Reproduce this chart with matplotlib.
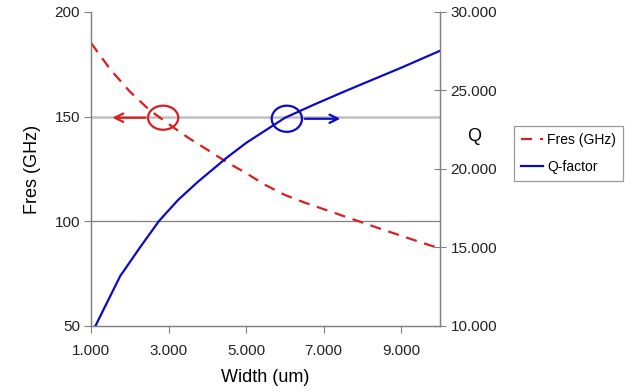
import matplotlib.pyplot as plt
from matplotlib.patches import Ellipse
from matplotlib.ticker import FuncFormatter

plt.rcParams['font.family'] = ['Liberation Sans', 'DejaVu Sans']

fres_width = [1000, 1500, 2000, 2500, 3000, 3500, 4000, 4500, 5000, 5500,
              6000, 6500, 7000, 7500, 8000, 8500, 9000, 9500, 10000]
fres_ghz = [185.2, 172.5, 162, 153.3, 146.5, 140, 134.2, 128.3, 123, 117.3,
            112.6, 109.0, 105.8, 102.6, 99.4, 96.2, 93.1, 90.0, 87]
q_width = [1000, 1750, 2250, 2750, 3250, 3750, 4500, 5000, 6000, 6750,
           7500, 8000, 9000, 10000]
q_factor = [9440, 13170, 14960, 16680, 18040, 19170, 20720, 21660, 23260, 24100,
            24900, 25420, 26450, 27530]

x_ticks = [1000, 3000, 5000, 7000, 9000]
left_ticks = [50, 100, 150, 200]
right_ticks = [10000, 15000, 20000, 25000, 30000]

red = '#d81e1e'
blue = '#0a0ac8'
axis_gray = '#808080'

def dotted_thousands(v, pos):
    return f'{v:,.0f}'.replace(',', '.')

fig = plt.figure(figsize=(6.33, 3.92), dpi=100)
ax = fig.add_axes([0.1438, 0.1684, 0.5513, 0.801])
ax2 = ax.twinx()

l1, = ax.plot(fres_width, fres_ghz, color=red, lw=1.6, dashes=(5, 3.5), label='Fres (GHz)')
l2, = ax2.plot(q_width, q_factor, color=blue, lw=1.6, label='Q-factor')

ax.set_xlim(1000, 10000)
ax.set_ylim(50, 200)
ax2.set_ylim(10000, 30000)
ax.set_xticks(x_ticks)
ax.set_yticks(left_ticks)
ax2.set_yticks(right_ticks)
ax.xaxis.set_major_formatter(FuncFormatter(dotted_thousands))
ax2.yaxis.set_major_formatter(FuncFormatter(dotted_thousands))

# horizontal gridlines
ax.axhline(150, color='#c0c0c0', lw=1.8, zorder=0)
ax.axhline(100, color=axis_gray, lw=0.9, zorder=0)

for a in (ax, ax2):
    a.spines['top'].set_visible(False)
    for s in ('left', 'right', 'bottom'):
        a.spines[s].set_color(axis_gray)
        a.spines[s].set_linewidth(0.9)
ax.tick_params(axis='both', direction='out', length=5, color=axis_gray,
               labelsize=11, labelcolor='#222222', pad=3)
ax.tick_params(axis='x', pad=8)
ax2.tick_params(axis='y', direction='inout', length=9, color=axis_gray,
                labelsize=11, labelcolor='#222222', pad=3)

ax.set_xlabel('Width (um)', fontsize=13, labelpad=8)
ax.set_ylabel('Fres (GHz)', fontsize=13, labelpad=10)
ax2.set_ylabel('Q', fontsize=13, rotation=0, va='center', ha='center')
ax2.yaxis.set_label_coords(1.098, 0.605)

# circles and arrows pointing to the matching axis
ax.add_patch(Ellipse((2860, 149.5), 780, 11.5, fill=False, ec=red, lw=1.6, zorder=5))
ax.annotate('', xy=(1480, 149.5), xytext=(2470, 149.5),
            arrowprops=dict(arrowstyle='->', color=red, lw=1.6, mutation_scale=15))
ax.add_patch(Ellipse((6050, 149), 780, 12.5, fill=False, ec=blue, lw=1.6, zorder=5))
ax.annotate('', xy=(7500, 149), xytext=(6440, 149),
            arrowprops=dict(arrowstyle='->', color=blue, lw=1.6, mutation_scale=15))

leg = fig.legend(handles=[l1, l2], loc='upper left', bbox_to_anchor=(0.812, 0.678),
                 fontsize=10, frameon=True, fancybox=False, handlelength=1.6,
                 handletextpad=0.3, borderpad=0.5, labelspacing=0.9, borderaxespad=0)
leg.get_frame().set_edgecolor(axis_gray)
leg.get_frame().set_linewidth(0.9)

fig.savefig('out.png', dpi=100)
